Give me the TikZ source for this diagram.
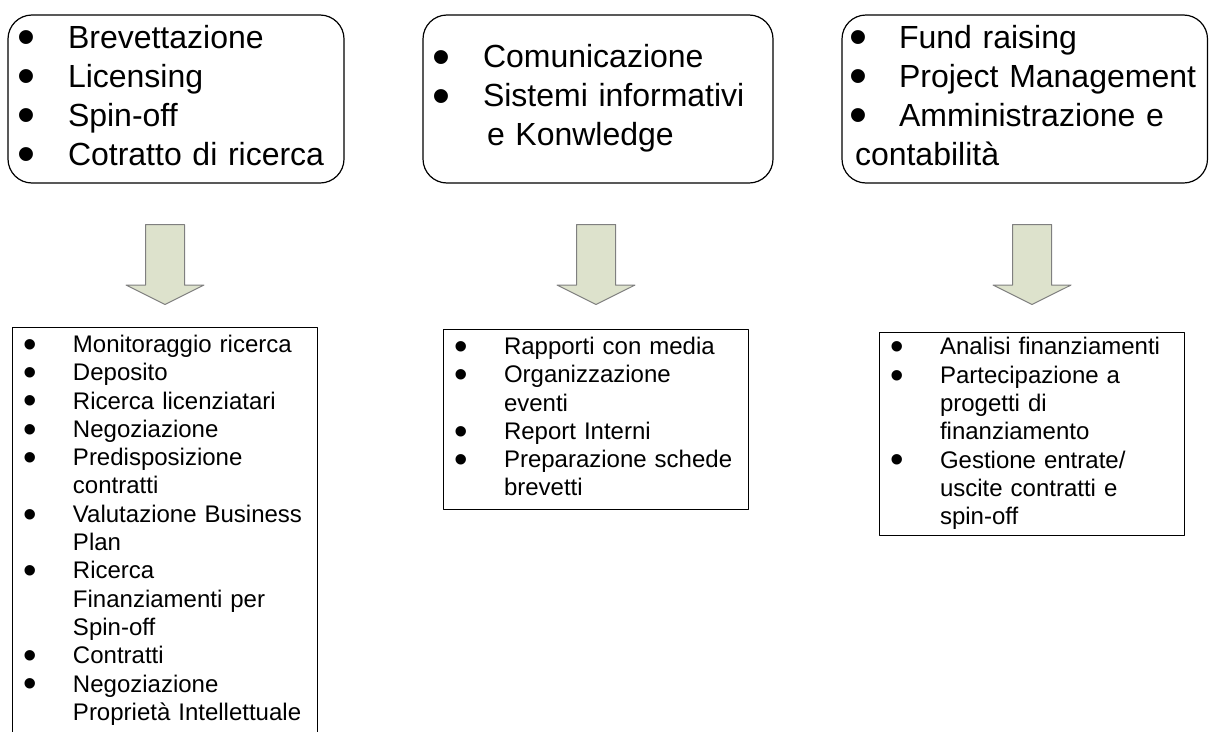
\documentclass[tikz,border=0pt]{standalone}
\usepackage{fontspec}
\setmainfont{Liberation Sans}
\usepackage{xcolor}
\usetikzlibrary{positioning,shapes.arrows}
\definecolor{ink}{HTML}{000000}
\definecolor{arrowfill}{HTML}{DDE2CC}
\definecolor{arrowline}{HTML}{7F7F7F}
\newlength{\bulletlead}
\newlength{\bulletgap}
\newcommand{\bigbullet}{\raisebox{-0.2em}{\scalebox{1.6}{\textbullet}}}
\newcommand{\itm}[1]{\hspace*{\bulletlead}\makebox[0pt]{\bigbullet}\hspace*{\bulletgap}#1\strut}
\newcommand{\cnt}[1]{\hspace*{\dimexpr\bulletlead+\bulletgap\relax}#1\strut}
\tikzset{
  diagram/.style={
    x=1pt,
    y=-1pt,
    line join=round
  },
  bullets/.style 2 args={
    execute at begin node={\setlength\bulletlead{#1}\setlength\bulletgap{#2}}
  },
  areabox/.style={
    draw=ink,
    line width=1.2pt,
    rounded corners=24pt,
    minimum height=168pt,
    inner xsep=0pt,
    inner ysep=0pt,
    align=left,
    font=\fontsize{32}{39}\selectfont
  },
  taskbox/.style={
    draw=ink,
    line width=1.2pt,
    inner xsep=0pt,
    inner ysep=5pt,
    text width=305pt,
    align=left,
    font=\fontsize{24}{28.3}\selectfont,
    bullets={18pt}{42.5pt}
  },
  blockarrow/.style={
    single arrow,
    draw=arrowline,
    fill=arrowfill,
    line width=1pt,
    minimum height=80pt,
    inner xsep=0pt,
    inner ysep=19pt,
    single arrow head extend=19.5pt,
    single arrow tip angle=127,
    rotate=-90
  }
}
\begin{document}
\begin{tikzpicture}[diagram]
\useasboundingbox (0,0) rectangle (1209,731);
\clip (0,0) rectangle (1209,731);

% aree di attivita
\node[areabox, bullets={18pt}{42pt}, text width=336pt] (tech) at (176,99)
  {\itm{Brevettazione}\\\itm{Licensing}\\\itm{Spin-off}\\\itm{Cotratto di ricerca}};
\node[areabox, bullets={18pt}{42pt}, text width=350pt] (comm) at (598,99)
  {\itm{Comunicazione}\\\itm{Sistemi informativi}\\\cnt{\hspace*{4pt}e Konwledge}};
\node[areabox, bullets={16pt}{41pt}, text width=365.5pt] (admin) at (1024.75,99)
  {\itm{Fund raising}\\\itm{Project Management}\\\itm{Amministrazione e}\\\hspace*{13pt}contabilità\strut};

% frecce
\node[blockarrow, anchor=tail] (arrTech) at (165,224) {};
\node[blockarrow, anchor=tail] (arrComm) at (596,224) {};
\node[blockarrow, anchor=tail] (arrAdmin) at (1032,224) {};

% attivita di dettaglio
\node[taskbox, below=22pt of arrTech.tip] (techTasks)
  {\itm{Monitoraggio ricerca}\\\itm{Deposito}\\\itm{Ricerca licenziatari}\\\itm{Negoziazione}\\
   \itm{Predisposizione}\\\cnt{contratti}\\\itm{Valutazione Business}\\\cnt{Plan}\\
   \itm{Ricerca}\\\cnt{Finanziamenti per}\\\cnt{Spin-off}\\\itm{Contratti}\\
   \itm{Negoziazione}\\\cnt{Proprietà~Intellettuale}};
\node[taskbox, below=24pt of arrComm.tip] (commTasks)
  {\itm{Rapporti con media}\\\itm{Organizzazione}\\\cnt{eventi}\\\itm{Report Interni}\\
   \itm{Preparazione schede}\\\cnt{brevetti}};
\node[taskbox, inner ysep=2.5pt, below=27pt of arrAdmin.tip] (adminTasks)
  {\itm{Analisi finanziamenti}\\\itm{Partecipazione a}\\\cnt{progetti di}\\\cnt{finanziamento}\\
   \itm{Gestione entrate/}\\\cnt{uscite contratti e}\\\cnt{spin-off}};
\end{tikzpicture}
\end{document}
